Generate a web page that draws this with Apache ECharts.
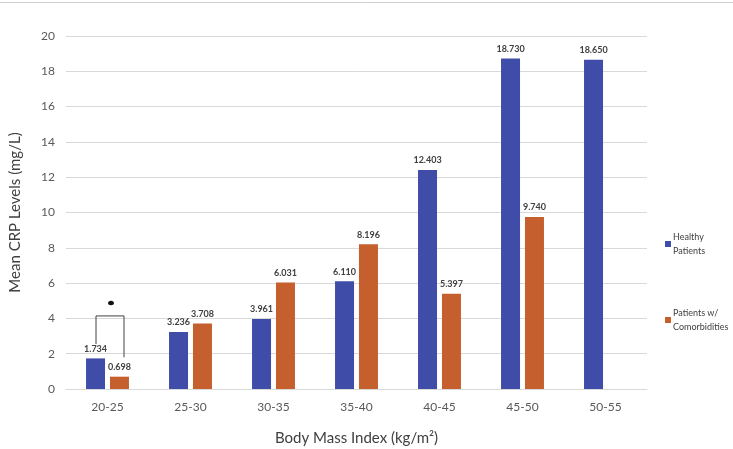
<!DOCTYPE html>
<html>
<head>
<meta charset="utf-8">
<script src="https://cdn.jsdelivr.net/npm/echarts@6/dist/echarts.min.js"></script>
<style>html,body{margin:0;padding:0;background:#fff;}#c{width:733px;height:449px;}</style>
</head>
<body>
<div id="c"></div>
<script>
const categories = ['20-25','25-30','30-35','35-40','40-45','45-50','50-55'];
const healthy = [1.734, 3.236, 3.961, 6.110, 12.403, 18.730, 18.650];
const comorbid = [0.698, 3.708, 6.031, 8.196, 5.397, 9.740, null];
const seriesNames = ['Healthy Patients', 'Patients w/ Comorbidities'];
const yTicks = {min: 0, max: 20, interval: 2};
// significance bracket on 20-25: [top, left leg bottom, right leg bottom, marker]
const bracket = [4.14, 2.55, 1.8, 4.87];

const FONT = 'Lato';
const chart = echarts.init(document.getElementById('c'));
chart.setOption({
  animation: false,
  textStyle: {fontFamily: FONT},
  graphic: [{
    type: 'line', shape: {x1: 0, y1: 2.5, x2: 733, y2: 2.5},
    style: {stroke: '#d0d0d0', lineWidth: 1}, silent: true
  }],
  grid: {left: 66, right: 86, top: 36, bottom: 60, containLabel: false, outerBoundsMode: 'none'},
  legend: {
    orient: 'vertical', left: 660, top: 225, itemGap: 48,
    itemWidth: 6, itemHeight: 6, icon: 'rect',
    formatter: function (n) { return n === seriesNames[0] ? 'Healthy\nPatients' : 'Patients w/\nComorbidities'; },
    textStyle: {fontSize: 9, color: '#404040', lineHeight: 14, padding: [0,0,0,-3], fontFamily: FONT},
    data: seriesNames
  },
  xAxis: {
    type: 'category', data: categories,
    name: 'Body Mass Index (kg/m²)', nameLocation: 'middle', nameGap: 42,
    nameTextStyle: {fontSize: 15, color: '#404040', fontFamily: FONT},
    axisLine: {lineStyle: {color: '#d9d9d9'}},
    axisTick: {show: false},
    axisLabel: {fontSize: 12, color: '#595959', margin: 12}
  },
  yAxis: {
    type: 'value', min: yTicks.min, max: yTicks.max, interval: yTicks.interval,
    name: 'Mean CRP Levels (mg/L)', nameLocation: 'middle', nameGap: 43,
    nameTextStyle: {fontSize: 15, color: '#404040', fontFamily: FONT},
    axisLine: {show: false}, axisTick: {show: false},
    axisLabel: {fontSize: 12, color: '#595959', margin: 11},
    splitLine: {lineStyle: {color: '#d9d9d9'}}
  },
  series: [
    {
      name: seriesNames[0], type: 'bar', data: healthy, barWidth: 19, barGap: '26%',
      itemStyle: {color: '#3F4CA8'},
      label: {show: true, position: 'top', distance: 5, fontSize: 9, fontWeight: 'bold', color: '#404040',
        formatter: p => p.value.toFixed(3)}
    },
    {
      name: seriesNames[1], type: 'bar', data: comorbid, barWidth: 19, barGap: '26%',
      itemStyle: {color: '#C55F2D'},
      label: {show: true, position: 'top', distance: 5, fontSize: 9, fontWeight: 'bold', color: '#404040',
        formatter: p => p.value == null ? '' : p.value.toFixed(3)}
    },
    {
      type: 'custom', silent: true, z: 5,
      data: [[0, bracket[0]]],
      renderItem: function (params, api) {
        const c = api.coord([api.value(0), bracket[0]]);
        const yL = api.coord([0, bracket[1]])[1];
        const yR = api.coord([0, bracket[2]])[1];
        const yM = api.coord([0, bracket[3]])[1];
        const xl = c[0] - 11.5, xr = c[0] + 16.5;
        return {
          type: 'group',
          children: [
            {type: 'polyline', shape: {points: [[xl, yL], [xl, c[1]], [xr, c[1]], [xr, yR]]},
             style: {stroke: '#404040', lineWidth: 1, fill: null}},
            {type: 'ellipse', shape: {cx: c[0] + 3.5, cy: yM, rx: 3, ry: 2.3}, style: {fill: '#111'}}
          ]
        };
      }
    }
  ]
});
</script>
</body>
</html>
